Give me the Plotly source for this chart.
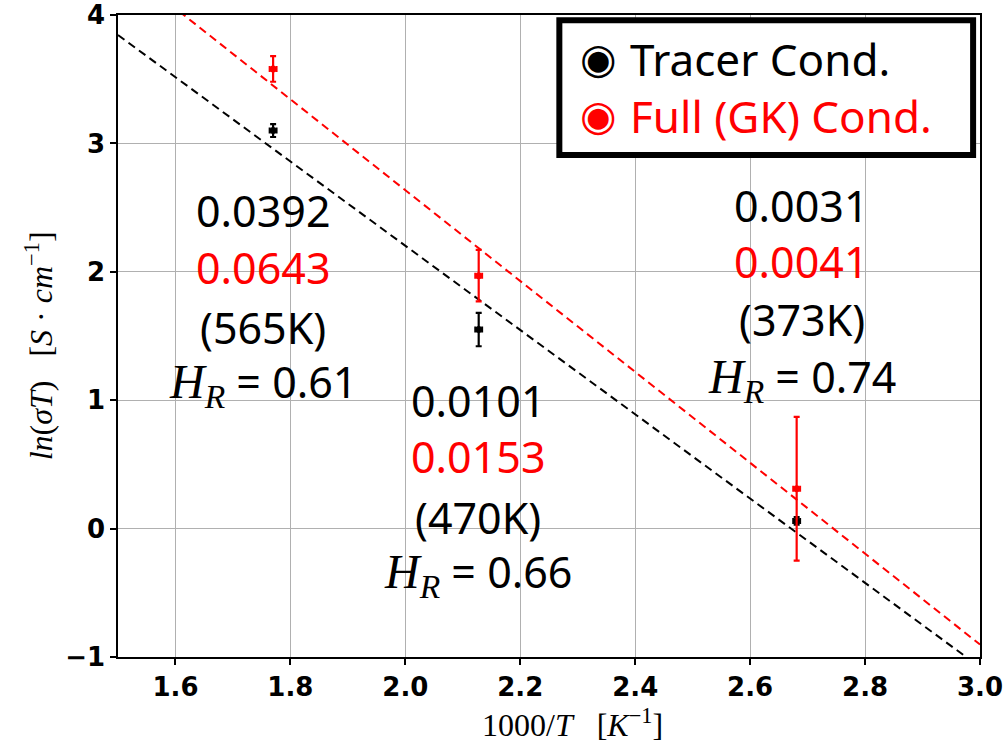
import numpy as np
import plotly.graph_objects as go

# ---------------- data ----------------
temps_K = [565, 470, 373]
inv_T = [1000 / t for t in temps_K]          # 1000/T  [1/K]

tracer_ln = [3.10, 1.55, 0.06]
tracer_err = [0.05, 0.13, 0.03]
full_ln = [3.58, 1.97, 0.31]
full_err = [0.10, 0.20, 0.56]
x_err = [0.006, 0.006, 0.006]

tracer_sigma = ["0.0392", "0.0101", "0.0031"]
full_sigma = ["0.0643", "0.0153", "0.0041"]
haven_ratio = ["0.61", "0.66", "0.74"]

x_ticks = [1.6, 1.8, 2.0, 2.2, 2.4, 2.6, 2.8, 3.0]
y_ticks = [-1, 0, 1, 2, 3, 4]
x_range = [1.5, 3.0]
y_range = [-1, 4]

# ---------------- figure ----------------
fig = go.Figure()

fit_x = np.array(x_range)
for vals, color in [(tracer_ln, "#000000"), (full_ln, "#ff0000")]:
    slope, icpt = np.polyfit(inv_T, vals, 1)
    fig.add_trace(go.Scatter(x=fit_x, y=slope * fit_x + icpt, mode="lines",
                             line=dict(color=color, width=2, dash="8px,5px"),
                             showlegend=False, hoverinfo="skip"))

for vals, errs, color in [(tracer_ln, tracer_err, "#000000"), (full_ln, full_err, "#ff0000")]:
    fig.add_trace(go.Scatter(
        x=inv_T, y=vals, mode="markers",
        marker=dict(color=color, size=7),
        error_y=dict(type="data", array=errs, color=color, thickness=2.2, width=3),
        error_x=dict(type="data", array=x_err, color=color, thickness=2, width=3),
        showlegend=False))

TXT = "Noto Sans"
SERIF = "Liberation Serif"
FS = 43

# text blocks: (x center, [y of each line])
blocks = [
    (1.753, [2.48, 2.03, 1.57, 1.13]),
    (2.127, [1.00, 0.56, 0.09, -0.35]),
    (2.690, [2.52, 2.08, 1.63, 1.17]),
]
for i, (bx, ys) in enumerate(blocks):
    lines = [
        (tracer_sigma[i], "#000000"),
        (full_sigma[i], "#ff0000"),
        (f"({temps_K[i]}K)", "#000000"),
        (f'<span style="font-family:{SERIF};font-size:48px"><i>H</i><sub><i>R</i></sub></span> = {haven_ratio[i]}', "#000000"),
    ]
    for (txt, col), yy in zip(lines, ys):
        fig.add_annotation(x=bx, y=yy, xref="x", yref="y", text=txt, showarrow=False,
                           xanchor="center", yanchor="middle",
                           font=dict(family=TXT, size=FS, color=col))

# legend box
fig.add_shape(type="rect", xref="paper", yref="paper",
              x0=0.512, x1=0.992, y0=0.782, y1=0.992,
              line=dict(color="black", width=6), fillcolor="white", layer="above")
legend_items = [("Tracer Cond.", "#000000", 0.932), ("Full (GK) Cond.", "#ff0000", 0.843)]
for label, col, yy in legend_items:
    fig.add_annotation(x=0.558, y=yy, xref="paper", yref="paper", text="◉",
                       showarrow=False, xanchor="center", yanchor="middle",
                       font=dict(family="DejaVu Sans", size=42, color=col))
    fig.add_annotation(x=0.592, y=yy, xref="paper", yref="paper", text=label,
                       showarrow=False, xanchor="left", yanchor="middle",
                       font=dict(family=TXT, size=44, color=col))

# axis titles
fig.add_annotation(x=0.527, y=-0.103, xref="paper", yref="paper",
                   text="1000/<i>T</i>   [<i>K</i><sup>−1</sup>]", showarrow=False,
                   xanchor="center", yanchor="middle",
                   font=dict(family=SERIF, size=32, color="black"))
fig.add_annotation(x=-0.0916, y=0.484, xref="paper", yref="paper", textangle=-90,
                   text="<i>ln</i>(<i>σT</i>)   [<i>S</i> · <i>cm</i><sup>−1</sup>]", showarrow=False,
                   xanchor="center", yanchor="middle",
                   font=dict(family=SERIF, size=32, color="black"))

axis_common = dict(showgrid=True, gridcolor="#b0b0b0", gridwidth=1,
                   showline=True, linecolor="black", linewidth=1.5, mirror=True,
                   ticks="outside", ticklen=6, tickwidth=1.5, tickcolor="black",
                   zeroline=False, automargin=False,
                   tickfont=dict(family="DejaVu Sans", size=26, color="black", weight="bold"))

fig.update_layout(
    width=1006, height=745,
    margin=dict(l=118, r=26, t=15, b=88),
    paper_bgcolor="white", plot_bgcolor="white",
    xaxis=dict(range=x_range, tickvals=x_ticks, ticktext=[f"{v:.1f}" for v in x_ticks],
               **axis_common),
    yaxis=dict(range=y_range, tickvals=y_ticks, **axis_common),
)

fig.write_html("out.html")
